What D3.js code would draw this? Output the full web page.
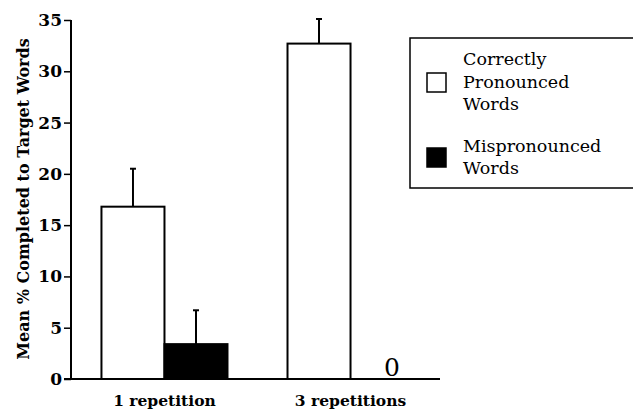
<!DOCTYPE html>
<html><head><meta charset="utf-8">
<script src="https://cdn.jsdelivr.net/npm/d3@7"></script>
<style>body{margin:0;background:#fff}svg{display:block}</style>
</head><body>
<script>
const groups = ["1 repetition", "3 repetitions"];
const seriesNames = ["Correctly Pronounced Words", "Mispronounced Words"];
const legendLines = [["Correctly", "Pronounced", "Words"], ["Mispronounced", "Words"]];
const means = [[16.8, 3.4], [32.7, 0]];
const errTop = [[20.5, 6.7], [35.1, null]];
const seriesFill = ["#ffffff", "#000000"];
const yTicks = [0, 5, 10, 15, 20, 25, 30, 35];

const W = 633, H = 413;
const svg = d3.select("body").append("svg").attr("width", W).attr("height", H);
const serif = "DejaVu Serif";

const y = d3.scaleLinear().domain([0, 35]).range([379, 20]);
const x0 = d3.scaleBand().domain(groups).range([73, 442]).paddingInner(0.3226).paddingOuter(0.153);
const x1 = d3.scaleBand().domain([0, 1]).range([0, x0.bandwidth()]);

// axes
const yAxis = d3.axisLeft(y).tickValues(yTicks).tickSize(7).tickPadding(2);
const gy = svg.append("g").attr("transform", "translate(71,0)").call(yAxis);
gy.select(".domain").attr("stroke", "#000").attr("stroke-width", 2).attr("d", `M0,${y(35)}V${y(0)}`);
gy.selectAll(".tick line").attr("stroke-width", 1.5);
gy.selectAll(".tick text").attr("font-family", serif).attr("font-weight", "bold").attr("font-size", 17).attr("fill", "#000");

svg.append("line").attr("x1", 64).attr("x2", 440).attr("y1", y(0)).attr("y2", y(0)).attr("stroke", "#000").attr("stroke-width", 2);

// x labels
svg.selectAll(".xl").data(groups).enter().append("text")
  .attr("x", d => x0(d) + x0.bandwidth() / 2).attr("y", 406)
  .attr("text-anchor", "middle").attr("font-family", serif).attr("font-weight", "bold").attr("font-size", 15.5)
  .text(d => d);

// y title
svg.append("text").attr("transform", "translate(29,199) rotate(-90)")
  .attr("text-anchor", "middle").attr("font-family", serif).attr("font-weight", "bold").attr("font-size", 16)
  .text("Mean % Completed to Target Words");

// bars
groups.forEach((g, gi) => {
  means[gi].forEach((v, si) => {
    const bx = x0(g) + x1(si), bw = x1.bandwidth();
    if (v > 0) {
      if (errTop[gi][si] != null) {
        const cx = bx + bw / 2;
        svg.append("line").attr("x1", cx).attr("x2", cx).attr("y1", y(v)).attr("y2", y(errTop[gi][si])).attr("stroke", "#000").attr("stroke-width", 2);
        svg.append("line").attr("x1", cx - 3).attr("x2", cx + 3).attr("y1", y(errTop[gi][si])).attr("y2", y(errTop[gi][si])).attr("stroke", "#000").attr("stroke-width", 2);
      }
      svg.append("rect").attr("x", bx).attr("y", y(v)).attr("width", bw).attr("height", y(0) - y(v))
        .attr("fill", seriesFill[si]).attr("stroke", "#000").attr("stroke-width", 2);
    } else {
      svg.append("text").attr("x", bx + bw / 2 + 10).attr("y", y(0) - 3).attr("text-anchor", "middle")
        .attr("font-family", serif).attr("font-size", 25).text("0");
    }
  });
});

// legend
svg.append("rect").attr("x", 410).attr("y", 38).attr("width", 240).attr("height", 150)
  .attr("fill", "#fff").attr("stroke", "#000").attr("stroke-width", 1.5);
const legY = [[65, 88, 110], [152, 174]];
const sqY = [73, 148];
seriesNames.forEach((s, si) => {
  svg.append("rect").attr("x", 427).attr("y", sqY[si]).attr("width", 19).attr("height", 19)
    .attr("fill", seriesFill[si]).attr("stroke", "#000").attr("stroke-width", 1.5);
  legendLines[si].forEach((t, li) => {
    svg.append("text").attr("x", 463).attr("y", legY[si][li]).attr("font-family", serif).attr("font-size", 17.5).text(t);
  });
});
</script>
</body></html>
